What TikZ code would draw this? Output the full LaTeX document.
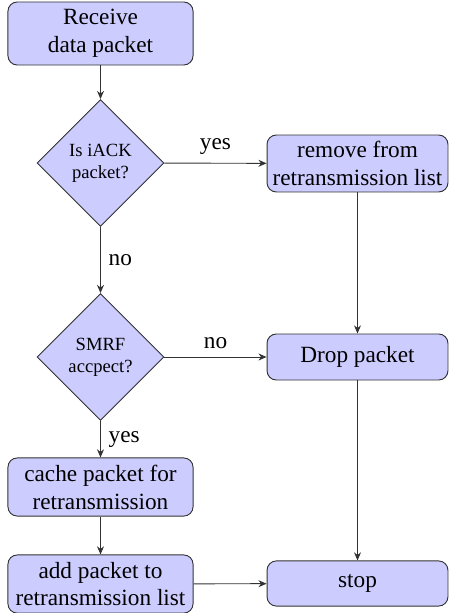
\documentclass[tikz,border=0pt]{standalone}
\usepackage{fontspec}
\setmainfont{Liberation Serif}
\usetikzlibrary{shapes.geometric,arrows.meta}
\begin{document}
\begin{tikzpicture}[x=0.43pt,y=-0.43pt,
  blockbox/.style={rectangle,draw=black!80,fill=blue!20,rounded corners=4pt,
    align=center,inner sep=1pt,font=\normalsize},
  decbox/.style={diamond,draw=black!80,fill=blue!20,aspect=1,minimum width=54.6pt,
    minimum height=54.6pt,inner sep=0pt,align=center,font=\footnotesize},
  conn/.style={draw=black!80,-{Stealth[length=3.5pt,width=3pt]}},
  lbl/.style={font=\normalsize}]
\useasboundingbox (0,0) rectangle (448,613);
\node[blockbox,minimum width=79.6pt,minimum height=27.1pt] (recv) at (100.5,33.5) {Receive\\data packet};
\node[decbox] (dec1) at (100.5,163) {Is iACK\\packet?};
\node[blockbox,minimum width=77.8pt,minimum height=24.5pt] (remove) at (357.5,163.5) {remove from\\retransmission list};
\node[decbox] (dec2) at (100.5,357) {SMRF\\accpect?};
\node[blockbox,minimum width=77.8pt,minimum height=19.8pt] (drop) at (357.5,357) {Drop packet};
\node[blockbox,minimum width=79.6pt,minimum height=25pt] (cache) at (100.5,487) {cache packet for\\retransmission};
\node[blockbox,minimum width=79.6pt,minimum height=25pt] (add) at (100.5,584) {add packet to\\retransmission list};
\node[blockbox,minimum width=77.8pt,minimum height=19.4pt] (stop) at (357.5,583.5) {stop};
\draw[conn] (recv) -- (dec1);
\draw[conn] (dec1) -- node[lbl,above] (l1) {yes} (remove);
\draw[conn] (dec1) -- node[lbl,right] (l2) {no} (dec2);
\draw[conn] (dec2) -- node[lbl,above] (l3) {no} (drop);
\draw[conn] (dec2) -- node[lbl,right] (l4) {yes} (cache);
\draw[conn] (cache) -- (add);
\draw[conn] (add) -- (stop);
\draw[conn] (remove) -- (drop);
\draw[conn] (drop) -- (stop);
\end{tikzpicture}
\end{document}
